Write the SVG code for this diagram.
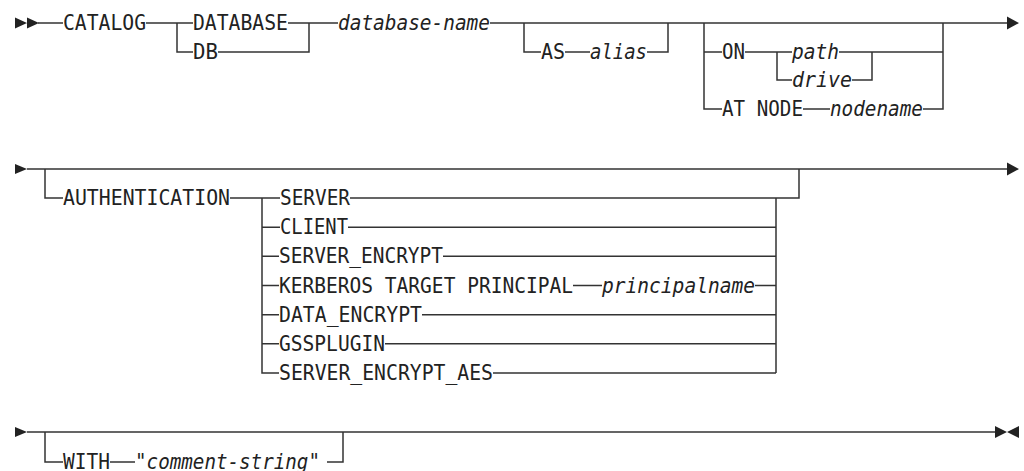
<svg xmlns="http://www.w3.org/2000/svg" width="1024" height="471" viewBox="0 0 1024 471">
<style>
.t{font-family:"DejaVu Sans Mono","Liberation Mono",monospace;font-size:22px;fill:#222;}
.i{font-style:italic;}
.ln{fill:none;stroke:#333;stroke-width:1.5;}
.ah{fill:#222;}
</style>
<rect width="1024" height="471" fill="#fff"/>
<g id="connectors">
<!-- row 1 -->
<path class="ln" d="M38 23H63 M146 23H193 M177 23V52H193 M218 52H309V23 M288 23H338 M490 23H1008"/>
<path class="ln" d="M524 23V52H541 M565 52H590 M647 52H668V23"/>
<path class="ln" d="M704 23V109H722 M704 52H722 M745 52H792 M777 52V80H792 M839 52H943 M852 80H872V52 M803 109H830 M923 109H943V23"/>
<!-- row 2 -->
<path class="ln" d="M27 169H1008 M45 169V198H63 M230 198H280 M262 198V373H279 M262 227.2H280 M262 256.3H279 M262 285.5H279 M262 314.7H279 M262 343.8H279"/>
<path class="ln" d="M350 198H799V169 M348 227.2H776 M443 256.3H776 M573 285.5H602 M755 285.5H776 M422 314.7H776 M385 343.8H776 M493 373H776 M776 198V373"/>
<!-- row 3 -->
<path class="ln" d="M27 432H996 M45 432V462H63 M110 462H135 M327 462H343V432"/>
</g>
<g id="arrows">
<path class="ah" d="M15 17.5L27 23L15 28.5Z M27 17.5L39 23L27 28.5Z"/>
<path class="ah" d="M1007 16.5L1019 23L1007 29.5Z"/>
<path class="ah" d="M15 164L27 169L15 174Z"/>
<path class="ah" d="M1007 162.5L1019 169L1007 175.5Z"/>
<path class="ah" d="M15 427L27 432L15 437Z"/>
<path class="ah" d="M995 426L1007 432L995 438Z M1019 426L1007 432L1019 438Z"/>
</g>
<g id="n-catalog"><text class="t" x="63" y="30" textLength="83" lengthAdjust="spacingAndGlyphs">CATALOG</text></g>
<g id="n-database"><text class="t" x="193" y="30" textLength="95" lengthAdjust="spacingAndGlyphs">DATABASE</text></g>
<g id="n-db"><text class="t" x="193" y="59" textLength="25" lengthAdjust="spacingAndGlyphs">DB</text></g>
<g id="n-dbname"><text class="t i" x="338" y="30" textLength="152" lengthAdjust="spacingAndGlyphs">database-name</text></g>
<g id="n-as"><text class="t" x="541" y="59" textLength="24" lengthAdjust="spacingAndGlyphs">AS</text></g>
<g id="n-alias"><text class="t i" x="590" y="59" textLength="57" lengthAdjust="spacingAndGlyphs">alias</text></g>
<g id="n-on"><text class="t" x="722" y="59" textLength="23" lengthAdjust="spacingAndGlyphs">ON</text></g>
<g id="n-path"><text class="t i" x="792" y="59" textLength="47" lengthAdjust="spacingAndGlyphs">path</text></g>
<g id="n-drive"><text class="t i" x="792" y="87" textLength="60" lengthAdjust="spacingAndGlyphs">drive</text></g>
<g id="n-atnode"><text class="t" x="722" y="116" textLength="81" lengthAdjust="spacingAndGlyphs">AT NODE</text></g>
<g id="n-nodename"><text class="t i" x="830" y="116" textLength="93" lengthAdjust="spacingAndGlyphs">nodename</text></g>
<g id="n-auth"><text class="t" x="63" y="205" textLength="167" lengthAdjust="spacingAndGlyphs">AUTHENTICATION</text></g>
<g id="n-server"><text class="t" x="280" y="205" textLength="70" lengthAdjust="spacingAndGlyphs">SERVER</text></g>
<g id="n-client"><text class="t" x="280" y="234.2" textLength="68" lengthAdjust="spacingAndGlyphs">CLIENT</text></g>
<g id="n-server-encrypt"><text class="t" x="279" y="263.3" textLength="164" lengthAdjust="spacingAndGlyphs">SERVER_ENCRYPT</text></g>
<g id="n-kerberos"><text class="t" x="279" y="292.5" textLength="294" lengthAdjust="spacingAndGlyphs">KERBEROS TARGET PRINCIPAL</text></g>
<g id="n-principal"><text class="t i" x="602" y="292.5" textLength="153" lengthAdjust="spacingAndGlyphs">principalname</text></g>
<g id="n-data-encrypt"><text class="t" x="279" y="321.7" textLength="143" lengthAdjust="spacingAndGlyphs">DATA_ENCRYPT</text></g>
<g id="n-gssplugin"><text class="t" x="279" y="350.8" textLength="106" lengthAdjust="spacingAndGlyphs">GSSPLUGIN</text></g>
<g id="n-server-encrypt-aes"><text class="t" x="279" y="380" textLength="214" lengthAdjust="spacingAndGlyphs">SERVER_ENCRYPT_AES</text></g>
<g id="n-with"><text class="t" x="63" y="468.5" textLength="47" lengthAdjust="spacingAndGlyphs">WITH</text></g>
<g id="n-comment"><text class="t i" x="135" y="468.5" textLength="185" lengthAdjust="spacingAndGlyphs">"comment-string"</text></g>
</svg>
